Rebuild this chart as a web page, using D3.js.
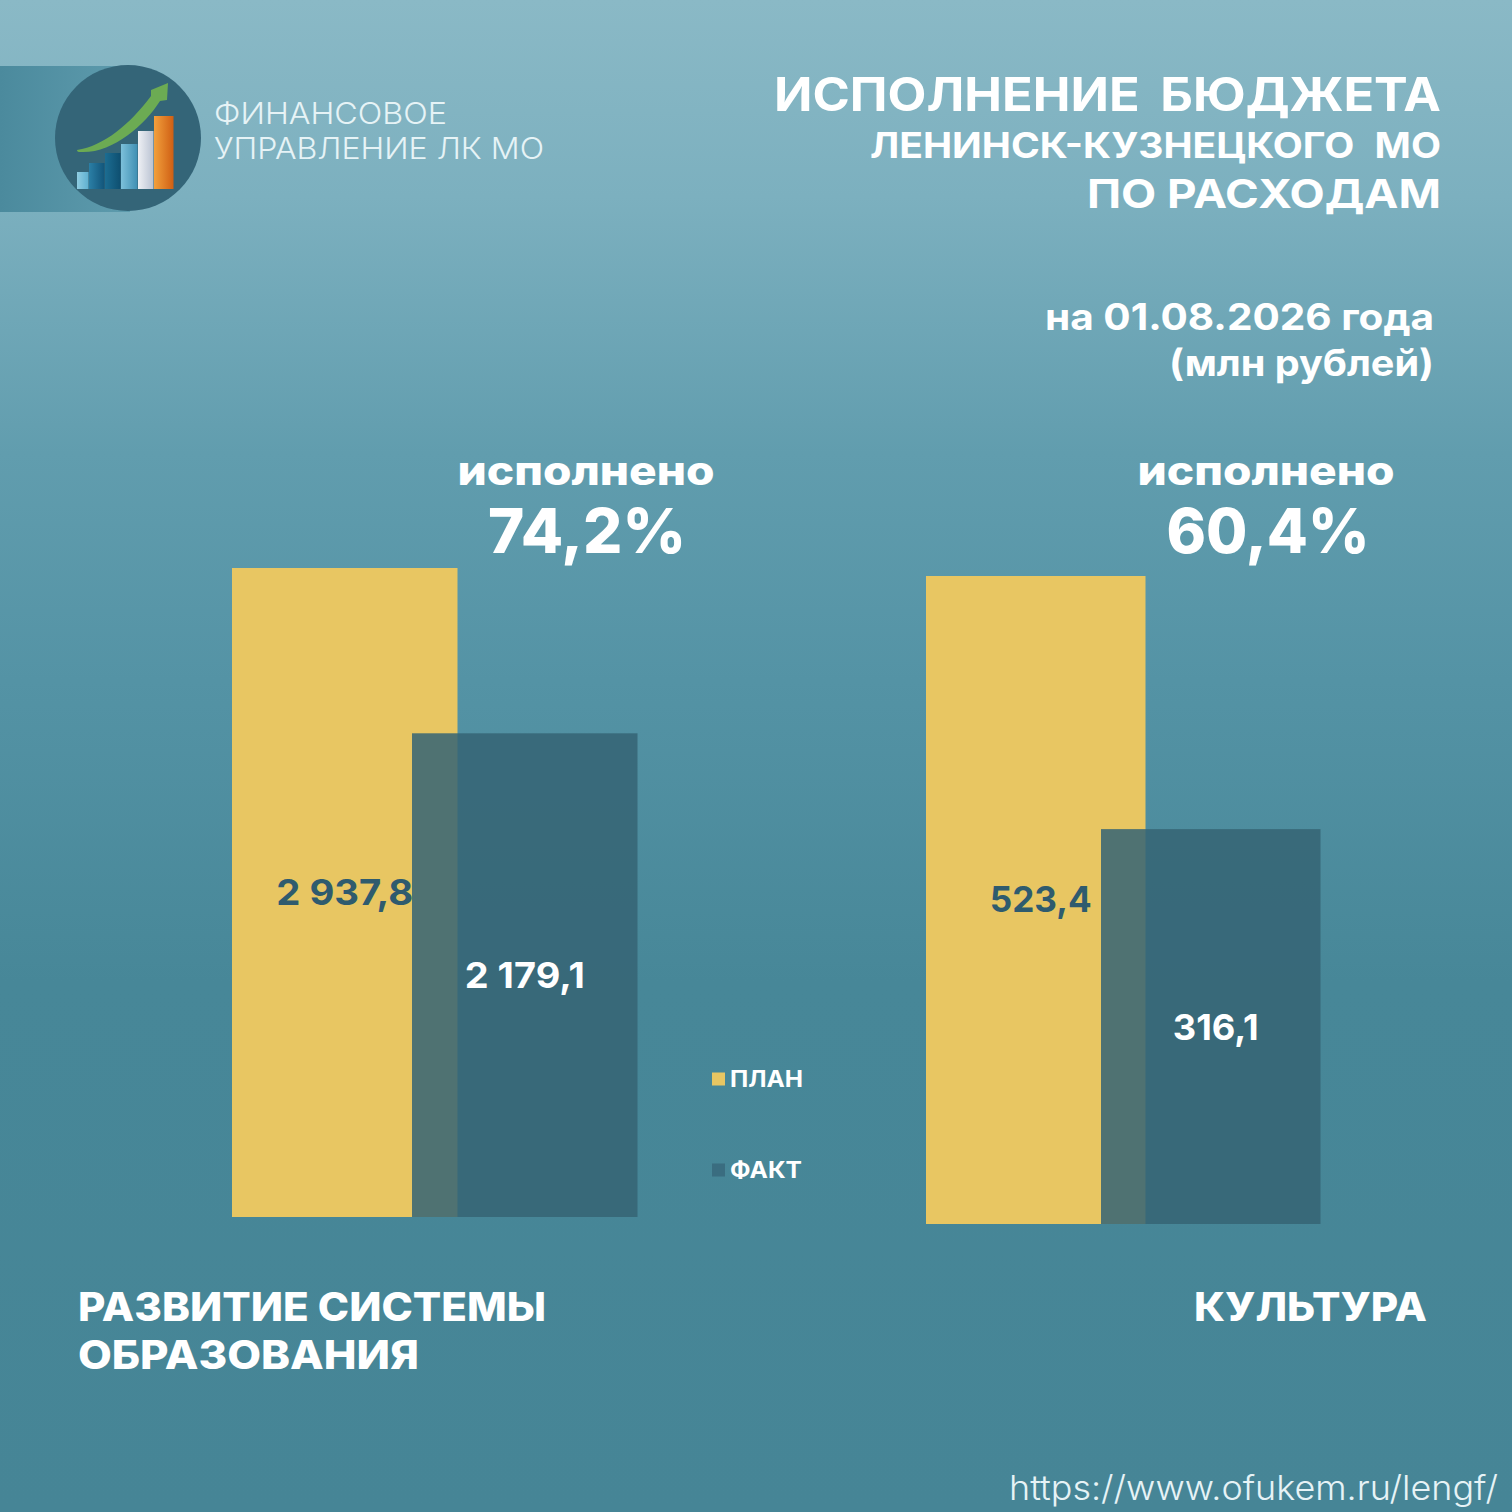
<!DOCTYPE html>
<html>
<head>
<meta charset="utf-8">
<script src="https://cdn.jsdelivr.net/npm/d3@7"></script>
<style>
html, body { margin: 0; padding: 0; background: #468596; }
svg { display: block; }
text { font-family: Inter, "Noto Sans", sans-serif; }
</style>
</head>
<body>
<svg id="viz"></svg>
<script>
const width = 1512, height = 1512;

const seriesNames = ["ПЛАН", "ФАКТ"];
const eduValues = [2937.8, 2179.1];
const eduLabels = ["2 937,8", "2 179,1"];
const cultureValues = [523.4, 316.1];
const cultureLabels = ["523,4", "316,1"];
const logoBars = [17, 26, 36, 45, 58, 73];
const logoBarWidths = [12, 16, 16, 17, 16, 20];
const logoLight = ["#8fcde2", "#2b7fa6", "#1c6d92", "#7cc0da", "#eef0f4", "#f2a03c"];
const logoDark = ["#5fb0d0", "#12557a", "#0e4f70", "#3f8fb3", "#b9c2d2", "#cf5f14"];

const planColor = "#e8c662", factColor = "#356475", labelDark = "#2f5b6e";

const svg = d3.select("#viz").attr("width", width).attr("height", height).attr("viewBox", [0, 0, width, height]);
const defs = svg.append("defs");

const bg = defs.append("linearGradient").attr("id", "bg").attr("x1", 0).attr("y1", 0).attr("x2", 0).attr("y2", 1);
[[0, "#8ab9c6"], [0.13, "#7cb0bf"], [0.3, "#619dae"], [0.45, "#5493a5"], [0.65, "#478798"], [1, "#468596"]].forEach(s => {
    bg.append("stop").attr("offset", s[0]).attr("stop-color", s[1]);
});
const tab = defs.append("linearGradient").attr("id", "tab");
tab.append("stop").attr("offset", 0).attr("stop-color", "#4b8a9d");
tab.append("stop").attr("offset", 1).attr("stop-color", "#5e9bad");

logoBars.forEach((d, i) => {
    const g = defs.append("linearGradient").attr("id", "logo" + i);
    g.append("stop").attr("offset", 0).attr("stop-color", logoLight[i]);
    g.append("stop").attr("offset", 1).attr("stop-color", logoDark[i]);
});

svg.append("rect").attr("width", width).attr("height", height).attr("fill", "url(#bg)");

// text with the width fitted to the picture
function label(x, y, str, size, weight, anchor, fill, len) {
    const t = svg.append("text")
        .attr("x", x).attr("y", y)
        .attr("font-size", size).attr("font-weight", weight)
        .attr("text-anchor", anchor).attr("fill", fill)
        .text(str);
    if (len) t.attr("textLength", len).attr("lengthAdjust", "spacingAndGlyphs");
    return t;
}

// logo
svg.append("rect").attr("x", 0).attr("y", 66).attr("width", 130).attr("height", 146).attr("fill", "url(#tab)");
svg.append("circle").attr("cx", 128).attr("cy", 138).attr("r", 73).attr("fill", "#346578");

const logoEdges = d3.cumsum(logoBarWidths);
const logoX = d3.scaleLinear().domain([0, d3.sum(logoBarWidths)]).range([77, 174]);
const logoY = d3.scaleLinear().domain([0, 73]).range([189, 116]);
svg.append("g").selectAll("rect").data(logoBars).join("rect")
    .attr("x", (d, i) => logoX(logoEdges[i] - logoBarWidths[i]))
    .attr("y", d => logoY(d))
    .attr("width", (d, i) => logoX(logoEdges[i]) - logoX(logoEdges[i] - logoBarWidths[i]) - 0.5)
    .attr("height", d => logoY(0) - logoY(d))
    .attr("fill", (d, i) => `url(#logo${i})`);
svg.append("path")
    .attr("d", "M77,150 C104,146 130,124 151,96 L151,90 L168,83 L167,100 L160,101 C144,126 112,154 80,152 Q77,152 77,150 Z")
    .attr("fill", "#6cab53");

label(214, 124, "ФИНАНСОВОЕ", 30, 300, "start", "#e6f3f6", 233);
label(214, 159, "УПРАВЛЕНИЕ ЛК МО", 30, 300, "start", "#e6f3f6", 330);

// header
label(1441, 111, "ИСПОЛНЕНИЕ БЮДЖЕТА", 46, 700, "end", "#fff", 667).attr("word-spacing", 8);
label(1441, 158, "ЛЕНИНСК-КУЗНЕЦКОГО МО", 35, 700, "end", "#fff", 571).attr("word-spacing", 10);
label(1441, 208, "ПО РАСХОДАМ", 40, 700, "end", "#fff", 354);
label(1434, 330, "на 01.08.2026 года", 37, 700, "end", "#fff", 389);
label(1434, 376, "(млн рублей)", 37, 700, "end", "#fff", 265);

// one small chart: the plan bar with the fact bar overlapping it
function chart(opts) {
    const x = d3.scalePoint().domain(seriesNames).range(opts.xRange);
    const y = d3.scaleLinear().domain([-0.014 * opts.values[0], opts.values[0]]).range([opts.base, opts.top]);
    const g = svg.append("g");
    g.selectAll("rect").data(opts.values).join("rect")
        .attr("x", (d, i) => x(seriesNames[i]))
        .attr("y", d => y(d))
        .attr("width", opts.barW)
        .attr("height", d => opts.base - y(d))
        .attr("fill", (d, i) => i ? factColor : planColor)
        .attr("fill-opacity", (d, i) => i ? 0.86 : 1);
    opts.values.forEach((d, i) => {
        label(x(seriesNames[i]) + opts.barW / 2 + opts.labelShift, (y(d) + opts.base) / 2 + (i ? 13 : 12),
            opts.labels[i], 36, 700, "middle", i ? "#fff" : labelDark, opts.labelW[i]);
    });
}

chart({ xRange: [232, 412], barW: 225.5, top: 568, base: 1217, values: eduValues, labels: eduLabels, labelW: [137, 120], labelShift: 0 });
chart({ xRange: [926, 1101], barW: 219.5, top: 576, base: 1224, values: cultureValues, labels: cultureLabels, labelW: [102, 86], labelShift: 5 });

// percent done
label(586, 485, "исполнено", 40, 800, "middle", "#fff", 257);
label(587, 553, "74,2%", 62, 800, "middle", "#fff", 198);
label(1266, 485, "исполнено", 40, 800, "middle", "#fff", 257);
label(1268, 553, "60,4%", 62, 800, "middle", "#fff", 203);

// legend
const legendY = d3.scalePoint().domain(seriesNames).range([1079, 1170]);
seriesNames.forEach((s, i) => {
    svg.append("rect").attr("x", 712).attr("y", legendY(s) - 6.5).attr("width", 13).attr("height", 13)
        .attr("fill", i ? "#3a6d80" : planColor);
    label(730, legendY(s) + 8, s, 23, 700, "start", "#fff", i ? 72 : 73);
});

// category names
label(78, 1321, "РАЗВИТИЕ СИСТЕМЫ", 39, 800, "start", "#fff", 468);
label(78, 1369, "ОБРАЗОВАНИЯ", 39, 800, "start", "#fff", 341);
label(1427, 1321, "КУЛЬТУРА", 39, 800, "end", "#fff", 233);

label(1498, 1500, "https://www.ofukem.ru/lengf/", 34, 300, "end", "#e6f3f6", 489);
</script>
</body>
</html>
